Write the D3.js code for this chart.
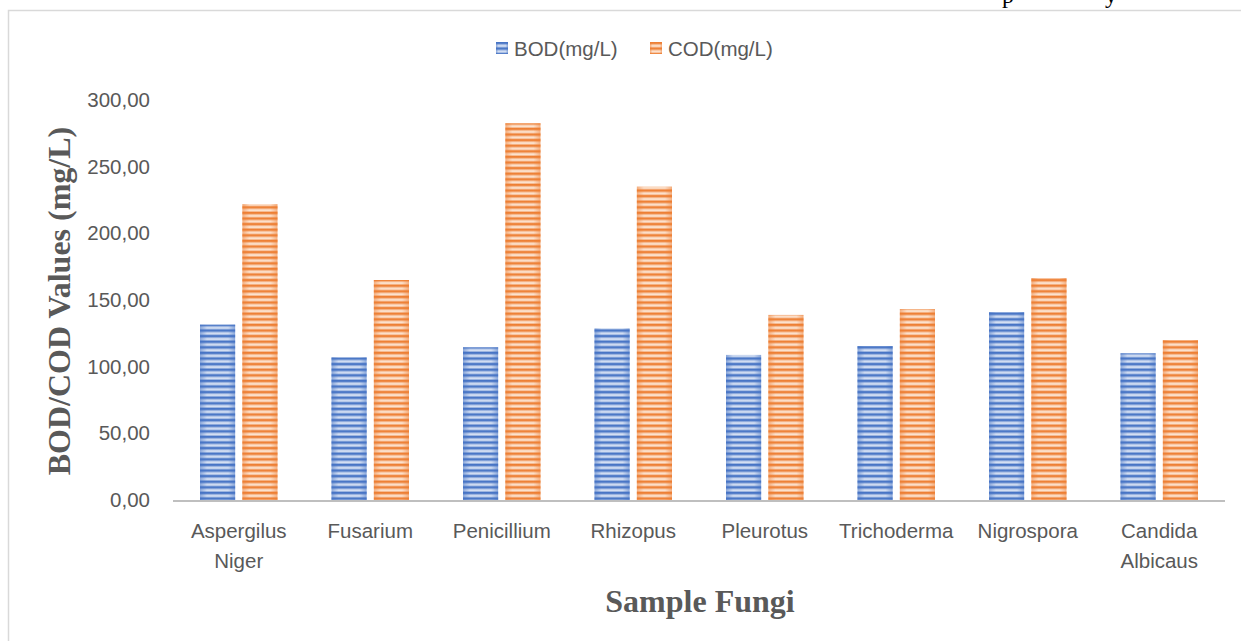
<!DOCTYPE html>
<html>
<head>
<meta charset="utf-8">
<script src="https://cdn.jsdelivr.net/npm/d3@7"></script>
<style>
body { margin:0; background:#fff; }
svg { display:block; }
.tick text { fill:#595959; font-family:"Liberation Sans", Arial, sans-serif; font-size:20.5px; }
</style>
</head>
<body>
<div id="chart"></div>
<script>
// values
var fungi = [['Aspergilus','Niger'],['Fusarium'],['Penicillium'],['Rhizopus'],['Pleurotus'],['Trichoderma'],['Nigrospora'],['Candida','Albicaus']]
var bod = [131.5, 107, 114.5, 128.7, 108.8, 115.5, 141, 110]
var cod = [222, 165, 282.5, 235, 138.8, 143.2, 166.5, 120]
var yTicks = [0, 50, 100, 150, 200, 250, 300]
var seriesNames = ['BOD(mg/L)', 'COD(mg/L)']

var colors = {
	'bod': {'dark':'#4472c4', 'edge':'#8eaadb', 'mid':'#d5e0f3'},
	'cod': {'dark':'#ed7d31', 'edge':'#f4b183', 'mid':'#fce3d0'}
}

var width = 1241, height = 641
var margin = {'top':100, 'bottom':141, 'left':173, 'right':16}
var labelFont = '"Liberation Sans", Arial, sans-serif'
var titleFont = '"Liberation Serif", "Times New Roman", serif'

var svg = d3.select('#chart').append('svg')
	.attr('width', width)
	.attr('height', height)

var defs = svg.append('defs')

/*stripe fills, one set per series*/
var makeFills = function(key) {
	var c = colors[key]
	var hg = defs.append('linearGradient').attr('id', 'hg-' + key)
		.attr('x1', 0).attr('x2', 1).attr('y1', 0).attr('y2', 0)
	hg.append('stop').attr('offset', 0).attr('stop-color', c.edge)
	hg.append('stop').attr('offset', 0.2).attr('stop-color', c.mid)
	hg.append('stop').attr('offset', 0.8).attr('stop-color', c.mid)
	hg.append('stop').attr('offset', 1).attr('stop-color', c.edge)

	var vg = defs.append('linearGradient').attr('id', 'vg-' + key)
		.attr('x1', 0).attr('x2', 0).attr('y1', 0).attr('y2', 1)
	vg.append('stop').attr('offset', 0).attr('stop-color', c.dark).attr('stop-opacity', 1)
	vg.append('stop').attr('offset', 0.3).attr('stop-color', c.dark).attr('stop-opacity', 0.9)
	vg.append('stop').attr('offset', 0.5).attr('stop-color', c.dark).attr('stop-opacity', 0.15)
	vg.append('stop').attr('offset', 0.75).attr('stop-color', c.dark).attr('stop-opacity', 0)
	vg.append('stop').attr('offset', 1).attr('stop-color', c.dark).attr('stop-opacity', 0.6)

	var pat = defs.append('pattern').attr('id', 'pat-' + key)
		.attr('patternUnits', 'userSpaceOnUse')
		.attr('width', 10).attr('height', 5.6)
	pat.append('rect').attr('width', 10).attr('height', 5.6).attr('fill', 'url(#vg-' + key + ')')
}
makeFills('bod')
makeFills('cod')

// outer frame
svg.append('rect')
	.attr('x', 8.5).attr('y', 10.5)
	.attr('width', width + 20).attr('height', height + 20)
	.attr('fill', 'none').attr('stroke', '#d9d9d9').attr('stroke-width', 1.5)

// bits of the page text above the frame
var clip = defs.append('clipPath').attr('id', 'topclip')
clip.append('rect').attr('x', 0).attr('y', 0).attr('width', width).attr('height', 9)
var topText = svg.append('g').attr('clip-path', 'url(#topclip)')
	.style('font-family', titleFont)
	.style('font-size', '24px').attr('fill', '#000')
topText.append('text').attr('x', 1002).attr('y', 3).text('p')
topText.append('text').attr('x', 1105).attr('y', 3).text('y')

var innerW = width - margin.left - margin.right
var innerH = height - margin.top - margin.bottom

var x = d3.scaleBand()
	.domain(d3.range(fungi.length))
	.range([0, innerW])
	.paddingInner(0)
	.paddingOuter(0)

var x1 = d3.scaleBand()
	.domain(['bod', 'cod'])
	.range([27, x.bandwidth() - 27])
	.paddingInner(0.17)

var y = d3.scaleLinear()
	.domain([0, 300])
	.range([innerH, 0])

var g = svg.append('g').attr('transform', 'translate(' + margin.left + ',' + margin.top + ')')

var yAxis = g.append('g').attr('transform', 'translate(-10,0)')
	.call(d3.axisLeft(y).tickValues(yTicks).tickSize(0).tickPadding(13)
		.tickFormat(function(d) { return d3.format('.2f')(d).replace('.', ',') }))
yAxis.select('.domain').remove()

var rows = d3.range(fungi.length).map(function(i) {
	return {'i': i, 'bod': bod[i], 'cod': cod[i]}
})

var groups = g.selectAll('.grp').data(rows).enter().append('g')
	.attr('class', 'grp')
	.attr('transform', function(d) { return 'translate(' + x(d.i) + ',0)' })

;['bod', 'cod'].forEach(function(key) {
	groups.append('rect')
		.attr('x', x1(key)).attr('width', x1.bandwidth())
		.attr('y', function(d) { return y(d[key]) })
		.attr('height', function(d) { return innerH - y(d[key]) })
		.attr('fill', 'url(#hg-' + key + ')')
	groups.append('rect')
		.attr('x', x1(key)).attr('width', x1.bandwidth())
		.attr('y', function(d) { return y(d[key]) })
		.attr('height', function(d) { return innerH - y(d[key]) })
		.attr('fill', 'url(#pat-' + key + ')')
})

// baseline
g.append('line')
	.attr('x1', 0).attr('x2', innerW)
	.attr('y1', y(0) + 1).attr('y2', y(0) + 1)
	.attr('stroke', '#bfbfbf').attr('stroke-width', 2)

// category labels
var labels = g.selectAll('.cat').data(rows).enter().append('text')
	.attr('class', 'cat')
	.attr('text-anchor', 'middle')
	.attr('fill', '#595959')
	.style('font-family', labelFont)
	.style('font-size', '20.5px')
	.attr('transform', function(d) { return 'translate(' + (x(d.i) + x.bandwidth() / 2) + ',' + (innerH + 38) + ')' })
labels.selectAll('tspan').data(function(d) { return fungi[d.i] }).enter().append('tspan')
	.attr('x', 0)
	.attr('dy', function(d, i) { return i ? 30 : 0 })
	.text(function(d) { return d })

// axis titles
svg.append('text')
	.attr('text-anchor', 'middle')
	.attr('transform', 'translate(70,' + (margin.top + innerH / 2 + 1) + ') rotate(-90)')
	.attr('fill', '#595959')
	.style('font-family', titleFont)
	.style('font-weight', 'bold')
	.style('font-size', '32px')
	.text('BOD/COD Values (mg/L)')

svg.append('text')
	.attr('text-anchor', 'middle')
	.attr('x', 700).attr('y', 612)
	.attr('fill', '#595959')
	.style('font-family', titleFont)
	.style('font-weight', 'bold')
	.style('font-size', '32px')
	.text('Sample Fungi')

// legend
var legend = svg.append('g').attr('transform', 'translate(496,42)')
var legItems = legend.selectAll('g').data(['bod', 'cod']).enter().append('g')
	.attr('transform', function(d, i) { return 'translate(' + (i * 154) + ',0)' })
legItems.append('rect').attr('width', 12).attr('height', 12).attr('fill', function(d) { return 'url(#hg-' + d + ')' })
legItems.append('rect').attr('width', 12).attr('height', 12).attr('fill', function(d) { return 'url(#pat-' + d + ')' })
legItems.append('text')
	.attr('x', 18).attr('y', 13.5)
	.attr('fill', '#595959')
	.style('font-family', labelFont)
	.style('font-size', '20.5px')
	.text(function(d, i) { return seriesNames[i] })
</script>
</body>
</html>
